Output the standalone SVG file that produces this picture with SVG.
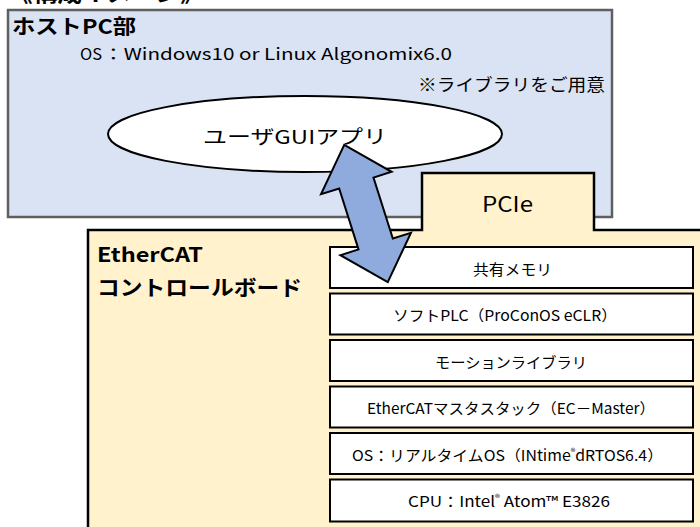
<svg xmlns="http://www.w3.org/2000/svg" width="700" height="527" viewBox="0 0 700 527">
<style>
.jp{font-family:"Noto Sans CJK JP","Liberation Sans",sans-serif;fill:#000}
.b{font-weight:bold}
.stk{fill:#fff;stroke:#000;stroke-width:2}
.bt{font-size:15px}
</style>
<rect x="0" y="0" width="700" height="527" fill="#fff"/>
<text class="jp b" x="8" y="2" font-size="20" textLength="197" lengthAdjust="spacingAndGlyphs">《構成イメージ》</text>

<g id="host">
  <rect x="8" y="10" width="604" height="207" fill="#dae3f3" stroke="#5f5f5f" stroke-width="2.5"/>
  <text class="jp b" x="12" y="34" font-size="20" textLength="124" lengthAdjust="spacingAndGlyphs">ホストPC部</text>
  <text class="jp" x="80" y="60" font-size="16" textLength="22" lengthAdjust="spacingAndGlyphs">OS</text>
  <text class="jp" x="103" y="60" font-size="16" textLength="349" lengthAdjust="spacingAndGlyphs">：Windows10 or Linux Algonomix6.0</text>
  <text class="jp" x="418" y="91" font-size="17" textLength="187" lengthAdjust="spacingAndGlyphs">※ライブラリをご用意</text>
</g>

<g id="gui-app">
  <ellipse cx="305" cy="134" rx="197" ry="38" fill="#fff" stroke="#000" stroke-width="2"/>
  <text class="jp" x="203" y="144" font-size="19" textLength="184" lengthAdjust="spacingAndGlyphs">ユーザGUIアプリ</text>
</g>

<g id="board">
  <path d="M88,230 L422,230 L422,173 L594,173 L594,230 L703,230 L703,530 L88,530 Z" fill="#fff2cc" stroke="#000" stroke-width="2.5"/>
  <text class="jp" x="482" y="212" font-size="21" textLength="51" lengthAdjust="spacingAndGlyphs">PCIe</text>
  <text class="jp b" x="97" y="262" font-size="20" textLength="106" lengthAdjust="spacingAndGlyphs">EtherCAT</text>
  <text class="jp b" x="97" y="295" font-size="21" textLength="205" lengthAdjust="spacingAndGlyphs">コントロールボード</text>
</g>

<g id="shared-memory">
  <rect class="stk" x="330" y="247" width="363" height="41"/>
  <text class="jp bt" x="473" y="274.5" textLength="79" lengthAdjust="spacingAndGlyphs">共有メモリ</text>
</g>
<g id="soft-plc">
  <rect class="stk" x="330" y="293.5" width="363" height="41"/>
  <text class="jp bt" x="393" y="321" textLength="224" lengthAdjust="spacingAndGlyphs">ソフトPLC（ProConOS eCLR）</text>
</g>
<g id="motion-library">
  <rect class="stk" x="330" y="340" width="363" height="41"/>
  <text class="jp bt" x="435" y="367.5" textLength="152" lengthAdjust="spacingAndGlyphs">モーションライブラリ</text>
</g>
<g id="ethercat-master">
  <rect class="stk" x="330" y="386.5" width="363" height="41"/>
  <text class="jp bt" x="367" y="414" textLength="288" lengthAdjust="spacingAndGlyphs">EtherCATマスタスタック（EC－Master）</text>
</g>
<g id="rtos">
  <rect class="stk" x="330" y="433" width="363" height="41"/>
  <text class="jp bt" x="352" y="461" textLength="311" lengthAdjust="spacingAndGlyphs">OS：リアルタイムOS（INtime<tspan font-size="9" dy="-6">®</tspan><tspan dy="6">dRTOS6.4）</tspan></text>
</g>
<g id="cpu">
  <rect class="stk" x="330" y="479.5" width="363" height="42"/>
  <text class="jp bt" x="408" y="507" textLength="202" lengthAdjust="spacingAndGlyphs">CPU：Intel<tspan font-size="9" dy="-6">®</tspan><tspan dy="6"> Atom™ E3826</tspan></text>
</g>

<g id="connectors">
  <polygon transform="translate(366,213.5) rotate(-17.6)" points="0,-72 37,-32 18,-32 18,32 37,32 0,72 -37,32 -18,32 -18,-32 -37,-32" fill="#8faadc" stroke="#000" stroke-width="2" stroke-linejoin="miter"/>
</g>
</svg>
